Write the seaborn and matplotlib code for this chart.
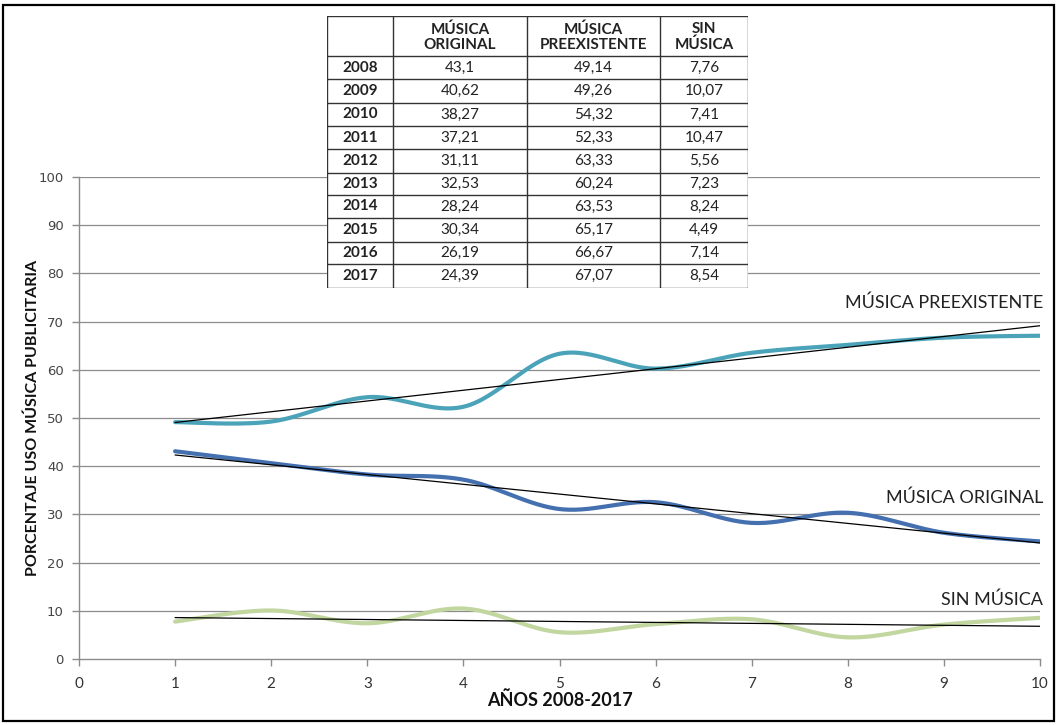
import numpy as np
import pandas as pd
import matplotlib
matplotlib.use("Agg")
import matplotlib.pyplot as plt
import seaborn as sns
from matplotlib.patches import Rectangle
from matplotlib.lines import Line2D

# ---- data ----
years = [2008, 2009, 2010, 2011, 2012, 2013, 2014, 2015, 2016, 2017]
x_index = [1, 2, 3, 4, 5, 6, 7, 8, 9, 10]
musica_original = [43.1, 40.62, 38.27, 37.21, 31.11, 32.53, 28.24, 30.34, 26.19, 24.39]
musica_preexistente = [49.14, 49.26, 54.32, 52.33, 63.33, 60.24, 63.53, 65.17, 66.67, 67.07]
sin_musica = [7.76, 10.07, 7.41, 10.47, 5.56, 7.23, 8.24, 4.49, 7.14, 8.54]
series_names = ["MÚSICA PREEXISTENTE", "MÚSICA ORIGINAL", "SIN MÚSICA"]
table_headers = ["MÚSICA\nORIGINAL", "MÚSICA\nPREEXISTENTE", "SIN\nMÚSICA"]
x_label = "AÑOS 2008-2017"
y_label = "PORCENTAJE USO MÚSICA PUBLICITARIA"

colors = {"MÚSICA PREEXISTENTE": "#4aa3b8",
          "MÚSICA ORIGINAL": "#4470b0",
          "SIN MÚSICA": "#c2d6a0"}
label_pos = {"MÚSICA PREEXISTENTE": 73.9,
             "MÚSICA ORIGINAL": 33.4,
             "SIN MÚSICA": 12.2}


def smooth(xs, ys, n=30):
    """Excel-like Catmull-Rom smoothing for display."""
    xs = np.asarray(xs, float); ys = np.asarray(ys, float)
    P = np.column_stack([xs, ys])
    P = np.vstack([P[0], P, P[-1]])
    out = []
    for i in range(1, len(P) - 2):
        p0, p1, p2, p3 = P[i - 1], P[i], P[i + 1], P[i + 2]
        c1 = p1 + (p2 - p0) / 6.0
        c2 = p2 - (p3 - p1) / 6.0
        t = np.linspace(0, 1, n, endpoint=(i == len(P) - 3))[:, None]
        b = ((1 - t) ** 3) * p1 + 3 * ((1 - t) ** 2) * t * c1 + 3 * (1 - t) * t ** 2 * c2 + t ** 3 * p2
        out.append(b)
    out = np.vstack(out)
    return out[:, 0], out[:, 1]


sns.set_theme(style="white")
plt.rcParams["font.family"] = ["Lato", "DejaVu Sans"]

fig = plt.figure(figsize=(10.59, 7.25), dpi=100)
W, H = 1059, 725
ax = fig.add_axes([79 / W, 1 - 659 / H, (1040 - 79) / W, (659 - 177) / H])

series_vals = {"MÚSICA PREEXISTENTE": musica_preexistente,
               "MÚSICA ORIGINAL": musica_original,
               "SIN MÚSICA": sin_musica}

# gridlines
for yv in range(10, 101, 10):
    ax.axhline(yv, color="#8c8c8c", lw=0.9, zorder=0)

for name in series_names:
    sx, sy = smooth(x_index, series_vals[name])
    d = pd.DataFrame({"x": sx, "y": sy})
    sns.lineplot(data=d, x="x", y="y", sort=False, estimator=None, color=colors[name],
                 lw=3.0, ax=ax, zorder=2, legend=False)

# linear trend lines
xi = np.array(x_index, float)
for name in series_names:
    m, c = np.polyfit(xi, np.array(series_vals[name]), 1)
    ax.plot([xi[0], xi[-1]], [m * xi[0] + c, m * xi[-1] + c], color="black", lw=0.9, zorder=3)
    ax.text(10.03, label_pos[name], name, ha="right", va="center", fontsize=13,
            color="#222222", clip_on=False)

ax.set_xlim(0, 10)
ax.set_ylim(0, 100)
ax.set_xticks(range(0, 11))
ax.set_yticks(range(0, 101, 10))
for s in ["top", "right"]:
    ax.spines[s].set_visible(False)
for s in ["left", "bottom"]:
    ax.spines[s].set_color("#8c8c8c")
    ax.spines[s].set_linewidth(1.0)
ax.tick_params(axis="both", direction="out", length=5, width=1, color="#8c8c8c", bottom=True, left=True)
ax.tick_params(axis="x", labelsize=11, labelcolor="#333333", pad=8)
ax.tick_params(axis="y", labelsize=9.5, labelcolor="#444444", pad=6)
for lab in ax.get_yticklabels():
    lab.set_family("DejaVu Sans")
ax.set_xlabel(x_label, fontsize=13, fontweight="bold", color="#111111")
ax.set_ylabel(y_label, fontsize=11.5, fontweight="bold", color="#111111")
ax.xaxis.set_label_coords(0.5, -0.066)
ax.yaxis.set_label_coords(-0.041, 0.5)
ax.grid(False)

# ---- table ----
tx0, tx1, ty0, ty1 = 327, 748, 16, 288
tab = fig.add_axes([tx0 / W, 1 - ty1 / H, (tx1 - tx0) / W, (ty1 - ty0) / H])
tab.set_xlim(tx0, tx1)
tab.set_ylim(ty1, ty0)
tab.axis("off")
tab.add_patch(Rectangle((tx0, ty0), tx1 - tx0, ty1 - ty0, facecolor="white", edgecolor="none", zorder=0))
col_edges = [327, 393, 527, 660, 748]
row_edges = [16, 56, 79, 103, 126, 149, 173, 195, 218, 242, 264, 288]
for xe in col_edges:
    tab.add_line(Line2D([xe, xe], [ty0, ty1], color="#333333", lw=1.0))
for ye in row_edges:
    tab.add_line(Line2D([tx0, tx1], [ye, ye], color="#333333", lw=1.0))
for j, h in enumerate(table_headers):
    cx = (col_edges[j + 1] + col_edges[j + 2]) / 2
    tab.text(cx, (row_edges[0] + row_edges[1]) / 2 + 1, h, ha="center", va="center",
             fontsize=11, fontweight="bold", color="#222222", linespacing=1.05)
cols = [musica_original, musica_preexistente, sin_musica]
for i, yr in enumerate(years):
    cy = (row_edges[i + 1] + row_edges[i + 2]) / 2
    tab.text((col_edges[0] + col_edges[1]) / 2, cy, str(yr), ha="center", va="center",
             fontsize=11, fontweight="bold", color="#222222")
    for j, col in enumerate(cols):
        tab.text((col_edges[j + 1] + col_edges[j + 2]) / 2, cy, str(col[i]).replace(".", ","),
                 ha="center", va="center", fontsize=11, color="#222222")

# outer border
fig.add_artist(Rectangle((3 / W, 4 / H), (1054 - 3) / W, (720 - 4) / H, transform=fig.transFigure,
                         fill=False, edgecolor="black", lw=1.6))

fig.savefig("out.png", dpi=100)
